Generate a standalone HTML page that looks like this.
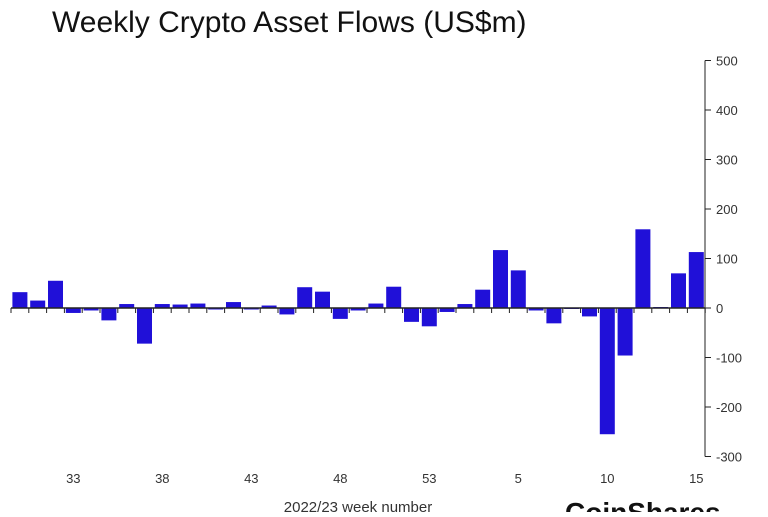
<!DOCTYPE html>
<html><head><meta charset="utf-8"><style>
body{margin:0;background:#fff;width:768px;height:512px;overflow:hidden;font-family:"Liberation Sans",sans-serif;}
</style></head><body>
<svg width="768" height="512">
<text x="52" y="32" font-size="30" fill="#111">Weekly Crypto Asset Flows (US$m)</text>
<g id="bars"></g><g id="axis"></g>
<text x="358" y="512" font-size="15" fill="#333" text-anchor="middle">2022/23 week number</text>
<text x="565" y="522" font-size="28" font-weight="bold" fill="#111">CoinShares</text>
</svg>
<script>
const weeks=[30,31,32,33,34,35,36,37,38,39,40,41,42,43,44,45,46,47,48,49,50,51,52,53,1,2,3,4,5,6,7,8,9,10,11,12,13,14,15];
const flows=[32,15,55,-10,-5,-25,8,-72,8,7,9,-3,12,-3,5,-13,42,33,-22,-5,9,43,-28,-37,-8,8,37,117,76,-5,-31,0,-17,-255,-96,159,2,70,113];
const yTicks=[500,400,300,200,100,0,-100,-200,-300];
const xLabelIdx=[3,8,13,18,23,28,33,38];
const NS='http://www.w3.org/2000/svg';
const x0=11,bw=17.8,axX=705;
const y=v=>308-v*0.495;
const xc=i=>x0+bw*(i+0.5);
const bars=document.getElementById('bars'),axis=document.getElementById('axis');
function mk(t,a,p){const e=document.createElementNS(NS,t);for(const k in a)e.setAttribute(k,a[k]);p.appendChild(e);return e;}
flows.forEach((v,i)=>{
 const r=mk('rect',{x:xc(i)-7.5,y:Math.min(y(v),y(0)),width:15,height:Math.max(Math.abs(y(v)-y(0)),1),fill:'#2010d8'},bars);
 
 
});
mk('line',{x1:x0,x2:axX,y1:y(0),y2:y(0),stroke:'#222','stroke-width':1.5},axis);
for(let i=0;i<=weeks.length;i++)mk('line',{x1:x0+bw*i,x2:x0+bw*i,y1:y(0),y2:y(0)+5,stroke:'#222'},axis);
mk('line',{x1:axX,x2:axX,y1:y(500),y2:y(-300),stroke:'#222'},axis);
yTicks.forEach(t=>{
 mk('line',{x1:axX,x2:axX+6,y1:y(t),y2:y(t),stroke:'#222'},axis);
 const tx=mk('text',{x:axX+11,y:y(t)+5,'font-size':13,fill:'#333'},axis);tx.textContent=t;
 
 
});
xLabelIdx.forEach(i=>{
 const tx=mk('text',{x:xc(i),y:483,'font-size':13,fill:'#333','text-anchor':'middle'},axis);tx.textContent=weeks[i];
 
 
});
</script>
</body></html>
